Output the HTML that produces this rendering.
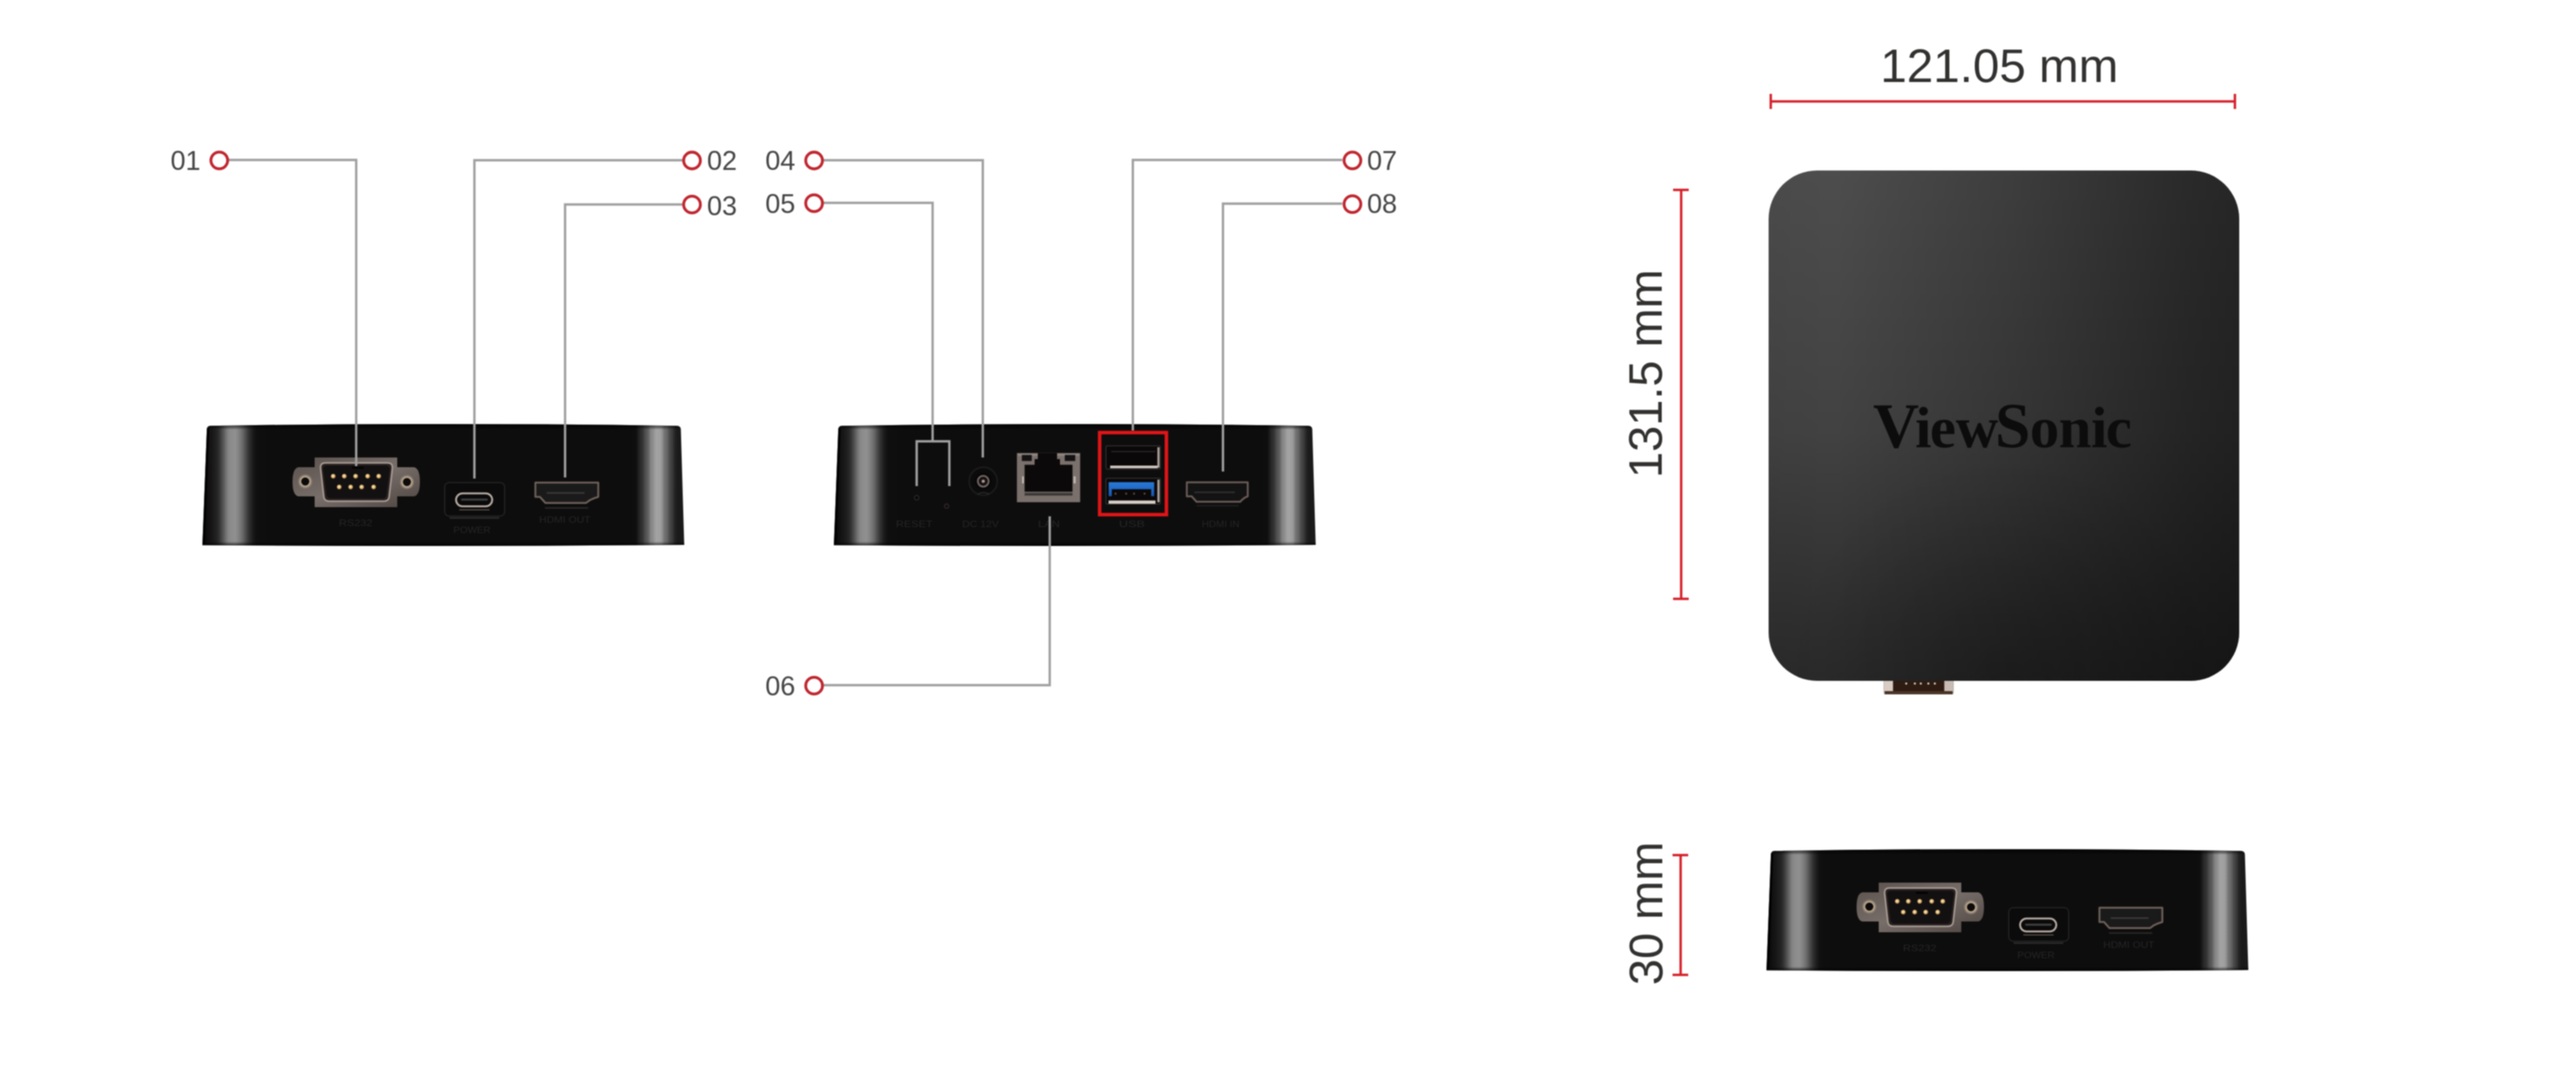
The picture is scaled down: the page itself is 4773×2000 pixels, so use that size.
<!DOCTYPE html>
<html><head><meta charset="utf-8">
<style>
html,body{margin:0;padding:0;background:#fff;width:4773px;height:2000px;overflow:hidden}
svg{display:block;filter:blur(1.3px)}
text{font-family:"Liberation Sans",sans-serif}
</style></head>
<body>
<svg width="4773" height="2000" viewBox="0 0 4773 2000">
<defs>
  <linearGradient id="bodyG" x1="0" y1="0" x2="893" y2="0" gradientUnits="userSpaceOnUse">
    <stop offset="0.0000" stop-color="#0a0a0a"/>
    <stop offset="0.0045" stop-color="#0a0a0a"/>
    <stop offset="0.0168" stop-color="#161414"/>
    <stop offset="0.0280" stop-color="#202020"/>
    <stop offset="0.0336" stop-color="#2d2d2d"/>
    <stop offset="0.0370" stop-color="#3a3a3a"/>
    <stop offset="0.0426" stop-color="#525252"/>
    <stop offset="0.0482" stop-color="#6e6e6e"/>
    <stop offset="0.0538" stop-color="#858585"/>
    <stop offset="0.0594" stop-color="#8c8c8c"/>
    <stop offset="0.0679" stop-color="#909090"/>
    <stop offset="0.0736" stop-color="#858585"/>
    <stop offset="0.0792" stop-color="#777777"/>
    <stop offset="0.0848" stop-color="#636363"/>
    <stop offset="0.0905" stop-color="#4a4a4a"/>
    <stop offset="0.0961" stop-color="#333333"/>
    <stop offset="0.1019" stop-color="#222222"/>
    <stop offset="0.1075" stop-color="#151515"/>
    <stop offset="0.1131" stop-color="#0f0f0f"/>
    <stop offset="0.1400" stop-color="#0e0d0d"/>
    <stop offset="0.8735" stop-color="#0e0d0d"/>
    <stop offset="0.8990" stop-color="#0e0e0e"/>
    <stop offset="0.9018" stop-color="#151515"/>
    <stop offset="0.9074" stop-color="#282828"/>
    <stop offset="0.9131" stop-color="#333333"/>
    <stop offset="0.9187" stop-color="#4e4e4e"/>
    <stop offset="0.9244" stop-color="#5e5e5e"/>
    <stop offset="0.9300" stop-color="#828282"/>
    <stop offset="0.9357" stop-color="#909090"/>
    <stop offset="0.9413" stop-color="#a3a3a3"/>
    <stop offset="0.9470" stop-color="#a2a2a2"/>
    <stop offset="0.9526" stop-color="#999999"/>
    <stop offset="0.9582" stop-color="#757575"/>
    <stop offset="0.9639" stop-color="#666666"/>
    <stop offset="0.9695" stop-color="#4a4a4a"/>
    <stop offset="0.9753" stop-color="#3a3a3a"/>
    <stop offset="0.9809" stop-color="#222222"/>
    <stop offset="0.9866" stop-color="#1a1a1a"/>
    <stop offset="1.0000" stop-color="#1a1a1a"/>
  </linearGradient>
  <linearGradient id="topG" x1="0" y1="316" x2="0" y2="1262" gradientUnits="userSpaceOnUse">
    <stop offset="0" stop-color="#4d4d4d"/>
    <stop offset="0.14" stop-color="#4a4a4a"/>
    <stop offset="0.51" stop-color="#424242"/>
    <stop offset="0.88" stop-color="#2f2f2f"/>
    <stop offset="1" stop-color="#2a2a2a"/>
  </linearGradient>
  <linearGradient id="topH" x1="3277" y1="0" x2="4149" y2="0" gradientUnits="userSpaceOnUse">
    <stop offset="0" stop-color="#000" stop-opacity="0.03"/>
    <stop offset="0.14" stop-color="#000" stop-opacity="0"/>
    <stop offset="0.51" stop-color="#000" stop-opacity="0.2"/>
    <stop offset="0.89" stop-color="#000" stop-opacity="0.45"/>
    <stop offset="1" stop-color="#000" stop-opacity="0.5"/>
  </linearGradient>
  <radialGradient id="topD" cx="3720" cy="1262" r="420" gradientUnits="userSpaceOnUse">
    <stop offset="0" stop-color="#000" stop-opacity="0.18"/>
    <stop offset="1" stop-color="#000" stop-opacity="0"/>
  </radialGradient>
  <linearGradient id="bodyV" x1="0" y1="-3" x2="0" y2="225" gradientUnits="userSpaceOnUse">
    <stop offset="0" stop-color="#000" stop-opacity="0.75"/>
    <stop offset="0.03" stop-color="#000" stop-opacity="0.4"/>
    <stop offset="0.05" stop-color="#000" stop-opacity="0"/>
    <stop offset="0.96" stop-color="#000" stop-opacity="0"/>
    <stop offset="0.985" stop-color="#000" stop-opacity="0.55"/>
    <stop offset="1" stop-color="#000" stop-opacity="0.85"/>
  </linearGradient>
  <g id="body">
    <path id="bodyShape" d="M8.3,7.5 Q8.5,1.5 15,1.2 Q447,-5.4 879,1.2 Q886,1.5 886.5,7.5 L892.8,222 Q447,225.5 0,222.5 Z" fill="url(#bodyG)"/>
    <path d="M8.3,7.5 Q8.5,1.5 15,1.2 Q447,-5.4 879,1.2 Q886,1.5 886.5,7.5 L892.8,222 Q447,225.5 0,222.5 Z" fill="url(#bodyV)"/>
    <path d="M10.5,6 L2.5,221" stroke="#000" stroke-width="4.5" opacity="0.85"/>
  </g>
  <linearGradient id="metalV" x1="0" y1="0" x2="1" y2="1">
    <stop offset="0" stop-color="#5a514d"/>
    <stop offset="0.5" stop-color="#776e69"/>
    <stop offset="1" stop-color="#4e4541"/>
  </linearGradient>
  <radialGradient id="pinG" cx="0.45" cy="0.45" r="0.6">
    <stop offset="0" stop-color="#fff4d8"/>
    <stop offset="0.5" stop-color="#e8c07a"/>
    <stop offset="1" stop-color="#6a4a20"/>
  </radialGradient>
  <!-- front ports, local coords relative to body origin -->
  <g id="frontPorts">
    <!-- DB9 -->
    <path d="M178,78 H208 V60 H361 V78 H392 Q403,80 403,105 Q403,130 392,132 H361 V152 H208 V132 H178 Q167,130 167,105 Q167,80 178,78 Z" fill="url(#metalV)"/>
    <circle cx="190.6" cy="104.5" r="13" fill="#8a7d74"/>
    <circle cx="190.6" cy="104.5" r="10.5" fill="#b8a488"/>
    <circle cx="190.6" cy="104.5" r="7.5" fill="#0c0a0a"/>
    <circle cx="379" cy="105.5" r="13" fill="#8a7d74"/>
    <circle cx="379" cy="105.5" r="10.5" fill="#b8a488"/>
    <circle cx="379" cy="105.5" r="7.5" fill="#0c0a0a"/>
    <path d="M228,70 H343 Q353,70 352,80 L346,133 Q345,141 336,141 H235 Q226,141 225,133 L219,80 Q218,70 228,70 Z" fill="#2a2220" stroke="#a89c95" stroke-width="3"/>
    <path d="M231,75 H340 Q348,75 347,83 L341,130 Q340,136 333,136 H238 Q231,136 230,130 L224,83 Q223,75 231,75 Z" fill="#121010"/>
    <rect x="277" y="77" width="22" height="4" fill="#050404"/>
    <g fill="url(#pinG)">
      <circle cx="242.5" cy="94.7" r="4.5"/><circle cx="263" cy="94.7" r="4.5"/><circle cx="284" cy="94.7" r="4.5"/><circle cx="306.3" cy="94.7" r="4.5"/><circle cx="326.8" cy="94.7" r="4.5"/>
      <circle cx="253.6" cy="114.7" r="4.5"/><circle cx="274.8" cy="114.7" r="4.5"/><circle cx="295.2" cy="114.7" r="4.5"/><circle cx="317.4" cy="114.7" r="4.5"/>
    </g>
    <!-- USB-C -->
    <rect x="449" y="106.5" width="111" height="62" rx="8" fill="#0b0b0b" stroke="#262626" stroke-width="2"/>
    <path d="M458,172 H550" stroke="#2c2c2c" stroke-width="3"/>
    <rect x="470" y="126.5" width="67" height="24" rx="12" fill="#0a0a0a" stroke="#b9aca4" stroke-width="3.5"/>
    <path d="M481,138 H527" stroke="#3c3c3e" stroke-width="4" stroke-linecap="round"/>
    <path d="M476,157 H532" stroke="#5a5048" stroke-width="2"/>
    <!-- HDMI -->
    <path d="M617,106.5 H733.5 V133 Q726,135 718,139 L711,144.2 H635.6 L625.4,133 H617 Z" fill="#1a1a1b" stroke="#6e605a" stroke-width="3.5" stroke-linejoin="round"/>
    <path d="M638,125.8 H708" stroke="#3a3a3a" stroke-width="3"/>
    <path d="M634.6,153.4 H715" stroke="#262626" stroke-width="3"/>
    <!-- labels -->
    <g fill="#252525" font-size="16" font-family="Liberation Sans">
      <text x="253" y="187" textLength="62" lengthAdjust="spacingAndGlyphs">RS232</text>
      <text x="465" y="200" textLength="69" lengthAdjust="spacingAndGlyphs">POWER</text>
      <text x="624" y="181" textLength="95" lengthAdjust="spacingAndGlyphs">HDMI OUT</text>
    </g>
  </g>
  <linearGradient id="blueG" x1="0" y1="0" x2="0" y2="1">
    <stop offset="0" stop-color="#2a7ad8"/>
    <stop offset="1" stop-color="#1656b0"/>
  </linearGradient>
  <g id="backPorts">
    <!-- reset holes -->
    <circle cx="153.5" cy="134.6" r="4" fill="#050505" stroke="#2a2a2a" stroke-width="2"/>
    <circle cx="209" cy="150.3" r="4" fill="#1a0808" stroke="#2a2a2a" stroke-width="2"/>
    <!-- DC jack -->
    <circle cx="276.8" cy="104" r="26" fill="#0b0b0b" stroke="#1c1c1c" stroke-width="3"/>
    <circle cx="276.8" cy="104" r="16" fill="#080808"/>
    <circle cx="276.8" cy="104" r="10" fill="#151212" stroke="#7a6a66" stroke-width="3"/>
    <circle cx="276.8" cy="104" r="3" fill="#a89890"/>
    <path d="M266,128 Q276.8,122 288,128" stroke="#2a2a2a" stroke-width="2" fill="none"/>
    <!-- LAN -->
    <rect x="339.2" y="51.7" width="117.2" height="91.2" fill="#7a706c"/>
    <rect x="341" y="53" width="114" height="4" fill="#8e8480"/>
    <path d="M353.5,73.6 H372 V63 H377.9 V51.7 H413.6 V63 H419 V73.6 H442.2 V123.6 H353.5 Z" fill="#0b0909"/>
    <rect x="353.5" y="125.6" width="88.7" height="5" fill="#3a3838"/>
    <rect x="348.4" y="55.3" width="18.3" height="11.2" fill="#141212"/>
    <rect x="427.9" y="55.3" width="19.4" height="11.2" fill="#141212"/>
    <rect x="348.9" y="95" width="3" height="13" fill="#c8bcb8"/>
    <rect x="444.2" y="95" width="4" height="13" fill="#c0b4b0"/>
    <!-- USB top -->
    <rect x="504.3" y="38.5" width="100.6" height="43" rx="2" fill="#0a0808" stroke="#3a3636" stroke-width="1.5"/>
    <path d="M512,77.5 H600" stroke="#cfc5bd" stroke-width="5"/>
    <path d="M601.5,41 V79" stroke="#b0a49e" stroke-width="4"/>
    <path d="M514,49 H596" stroke="#2a2828" stroke-width="2"/>
    <!-- USB bottom (blue) -->
    <rect x="504.3" y="98.5" width="100.6" height="47.8" rx="2" fill="#0a0808" stroke="#3a3636" stroke-width="1.5"/>
    <path d="M509.2,131.7 V105.8 H593.5 V131.7 L588,131.7 V118.8 H515 V131.7 Z" fill="url(#blueG)"/>
    <path d="M509,142.8 H596" stroke="#d8d0c8" stroke-width="6"/>
    <path d="M601.5,101 V143" stroke="#b0a49e" stroke-width="4"/>
    <g fill="#5a4a40"><circle cx="522" cy="126.9" r="2"/><circle cx="541.6" cy="126.9" r="2"/><circle cx="556.2" cy="126.9" r="2"/><circle cx="575.7" cy="126.9" r="2"/></g>
    <!-- HDMI in -->
    <path d="M654,106 H766.9 V132 Q760,134 753,142 H672 L663,132 H654 Z" fill="#131314" stroke="#6a5c56" stroke-width="3.5" stroke-linejoin="round"/>
    <path d="M668,124.6 H743" stroke="#2e2e30" stroke-width="3"/>
    <path d="M672,149.2 H750" stroke="#1e1e1e" stroke-width="3"/>
    <!-- red frame -->
    <rect x="492.5" y="13.8" width="123.7" height="152.1" fill="none" stroke="#e01418" stroke-width="6.5"/>
    <!-- labels -->
    <g fill="#252525" font-size="16" font-family="Liberation Sans">
      <text x="115" y="188.6" textLength="68" lengthAdjust="spacingAndGlyphs">RESET</text>
      <text x="237.7" y="188.6" textLength="68" lengthAdjust="spacingAndGlyphs">DC 12V</text>
      <text x="378.5" y="188.6" textLength="40" lengthAdjust="spacingAndGlyphs">LAN</text>
      <text x="528.3" y="188.6" textLength="48" lengthAdjust="spacingAndGlyphs">USB</text>
      <text x="681.8" y="188.6" textLength="70" lengthAdjust="spacingAndGlyphs">HDMI IN</text>
    </g>
  </g>
</defs>

<!-- ===== devices ===== -->
<use href="#body" x="375" y="788"/>
<use href="#body" x="1545" y="788"/>
<use href="#body" x="3273" y="1576"/>
<use href="#frontPorts" x="375" y="788"/>
<use href="#backPorts" x="1545" y="788"/>
<use href="#frontPorts" x="3273" y="1576"/>

<!-- ===== callout labels ===== -->
<g fill="#454545" font-size="50">
  <text x="316" y="315">01</text>
  <text x="1310" y="314.5">02</text>
  <text x="1310" y="399">03</text>
  <text x="1418" y="314.5">04</text>
  <text x="1418" y="395">05</text>
  <text x="1418" y="1289">06</text>
  <text x="2533" y="314.5">07</text>
  <text x="2533" y="395">08</text>
</g>

<!-- leader lines -->
<g fill="none" stroke="#a0a0a0" stroke-width="4.4">
  <path d="M424,296.5 H660 V864"/>
  <path d="M1264,297 H879 V887"/>
  <path d="M1264,379 H1047 V885"/>
  <path d="M1526,297 H1821 V848"/>
  <path d="M1526,376 H1728 V818 M1698.5,901 V818 H1759 V901"/>
  <path d="M1526,1270 H1945 V957"/>
  <path d="M2487,296.5 H2099 V798"/>
  <path d="M2487,377.5 H2266 V874"/>
</g>

<!-- circles -->
<g fill="none" stroke="#c0252e" stroke-width="5.3">
  <circle cx="406.3" cy="297.3" r="15.5"/>
  <circle cx="1282.2" cy="297.5" r="15.5"/>
  <circle cx="1282.2" cy="379.2" r="15.5"/>
  <circle cx="1508.4" cy="297.5" r="15.5"/>
  <circle cx="1508.4" cy="376.7" r="15.5"/>
  <circle cx="1508.4" cy="1270.9" r="15.5"/>
  <circle cx="2505.9" cy="297.3" r="15.5"/>
  <circle cx="2505.9" cy="378.4" r="15.5"/>
</g>

<!-- ===== top view ===== -->
<g id="topConn">
  <rect x="3490.5" y="1255" width="129" height="32" rx="3" fill="#2e1c12"/>
  <rect x="3490.5" y="1255" width="17" height="32" rx="2" fill="#d8ccc4"/>
  <rect x="3602.5" y="1255" width="17" height="32" rx="2" fill="#c8bcb4"/>
  <rect x="3492" y="1281" width="126" height="6" fill="#4a3428"/>
  <g fill="#d8cfc8"><circle cx="3532" cy="1267" r="2"/><circle cx="3548" cy="1267" r="2"/><circle cx="3559" cy="1267" r="2"/><circle cx="3573" cy="1267" r="2"/><circle cx="3585" cy="1267" r="2"/></g>
</g>
<rect x="3277" y="316" width="872" height="946" rx="90" ry="90" fill="url(#topG)"/>
<rect x="3277" y="316" width="872" height="946" rx="90" ry="90" fill="url(#topH)"/>
<rect x="3277" y="316" width="872" height="946" rx="90" ry="90" fill="url(#topD)"/>
<g font-family="Liberation Serif" font-weight="bold" fill="#0c0c0c" style="font-family:'Liberation Serif',serif">
  <text y="828.5" font-size="118" style="font-family:'Liberation Serif',serif"><tspan x="3470.5">V</tspan><tspan x="3696.5">S</tspan></text>
  <text y="828.5" font-size="109" style="font-family:'Liberation Serif',serif"><tspan x="3548.5">i</tspan><tspan x="3575.8">e</tspan><tspan x="3623.8">w</tspan><tspan x="3760.9">o</tspan><tspan x="3814.6">n</tspan><tspan x="3874.6">i</tspan><tspan x="3901.7">c</tspan></text>
</g>

<!-- ===== dimensions ===== -->
<g stroke="#d6202a" stroke-width="4.5" fill="none">
  <path d="M3281,188 H4141 M3281,174 V202 M4141,174 V202"/>
  <path d="M3115,352 V1110 M3100,352 H3129 M3100,1110 H3129"/>
  <path d="M3114,1585 V1807 M3099,1585 H3128 M3099,1807 H3128"/>
</g>
<g fill="#323130" font-size="87">
  <text x="3484" y="151.5" textLength="441" lengthAdjust="spacingAndGlyphs">121.05 mm</text>
  <text transform="translate(3079,886) rotate(-90)">131.5 mm</text>
  <text transform="translate(3080,1826) rotate(-90)">30 mm</text>
</g>
</svg>
</body></html>
